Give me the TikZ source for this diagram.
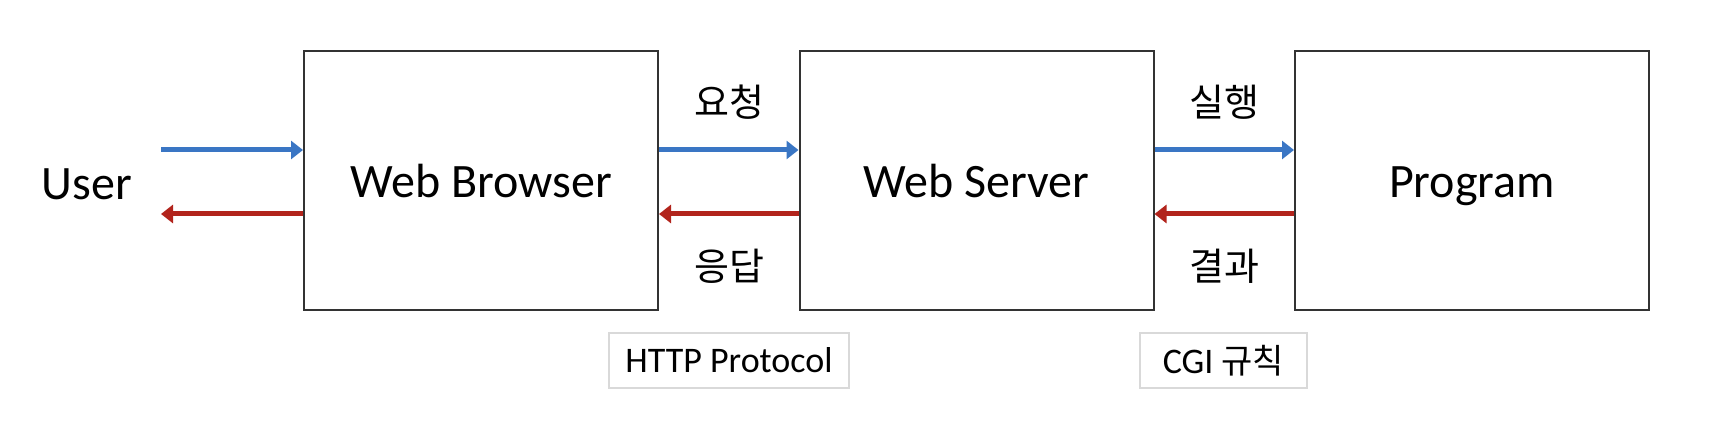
\documentclass[tikz,border=0pt]{standalone}
\usepackage{fontspec}
\setmainfont{Carlito}
\newfontfamily\cjk{Noto Sans CJK KR}
\usetikzlibrary{arrows.meta}
\usetikzlibrary{positioning}

\definecolor{reqblue}{RGB}{58,118,196}
\definecolor{resred}{RGB}{178,36,28}

\tikzset{
  blk/.style={rectangle,draw=black!80,line width=1pt,minimum width=177pt,minimum height=129.5pt,
    text height=20pt,text depth=2.5pt,font=\fontsize{24}{28}\selectfont},
  req/.style={draw=reqblue,line width=2.5pt,-{Triangle[length=6pt,width=9pt]}},
  res/.style={draw=resred,line width=2.5pt,-{Triangle[length=6pt,width=9pt]}},
  lbl/.style={font=\cjk\fontsize{19}{22}\selectfont},
  tag/.style={rectangle,draw=black!15,line width=0.75pt,minimum height=27.5pt,font=\fontsize{18}{22}\selectfont},
}

\begin{document}
\begin{tikzpicture}[x=0.5pt,y=-0.5pt]
\useasboundingbox (0,0) rectangle (1714,422);

\node[blk] (browser) at (481,180.5) {Web Browser};
\node[blk] (server) at (976.5,180.5) {Web Server};
\node[blk] (program) at (1472,180.5) {Program};
\node[font=\fontsize{24}{28}\selectfont] (user) at (87,184) {User};

% user <-> browser
\coordinate (uin) at (161,150);
\coordinate (uout) at (161,214);
\draw[req] (uin) -- (uin -| browser.west);
\draw[res] (uout -| browser.west) -- (uout);

% browser <-> server
\draw[req] ([yshift=15.25pt]browser.east) -- ([yshift=15.25pt]server.west);
\draw[res] ([yshift=-16.75pt]server.west) -- ([yshift=-16.75pt]browser.east);

% server <-> program
\draw[req] ([yshift=15.25pt]server.east) -- ([yshift=15.25pt]program.west);
\draw[res] ([yshift=-16.75pt]program.west) -- ([yshift=-16.75pt]server.east);

\node[lbl] (yocheong) at (729.5,102) {요청};
\node[lbl] (eungdap) at (729.5,266) {응답};
\node[lbl] (silhaeng) at (1224.5,102) {실행};
\node[lbl] (gyeolgwa) at (1224.5,266) {결과};

\node[tag,minimum width=120pt] (http) at (729,360.5) {HTTP Protocol};
\node[tag,minimum width=83.5pt] (cgi) at (1223.5,360.5) {CGI {\cjk\fontsize{17}{22}\selectfont 규칙}};

\end{tikzpicture}
\end{document}
